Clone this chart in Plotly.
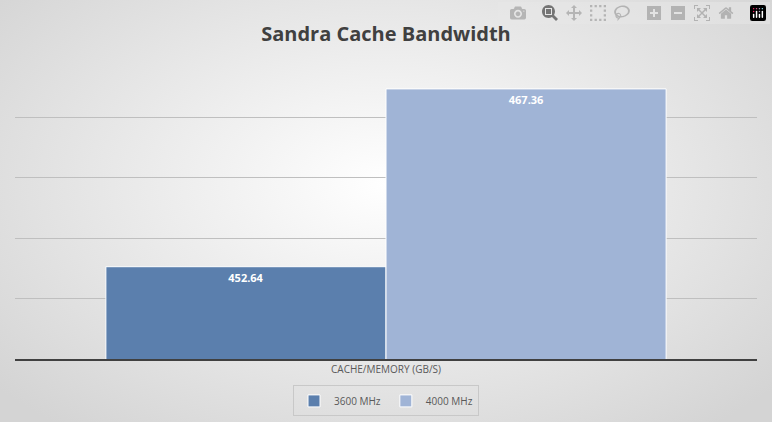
import plotly.graph_objects as go

categories = ["CACHE/MEMORY (GB/S)"]
series_names = ["3600 MHz", "4000 MHz"]
values_3600 = [452.64]
values_4000 = [467.36]
colors = ["#5b7fad", "#a0b4d6"]

svg = ("data:image/svg+xml;utf8,<svg xmlns='http://www.w3.org/2000/svg' width='772' height='422'>"
       "<defs><radialGradient id='g' cx='50%25' cy='45%25' r='65%25'>"
       "<stop offset='0' stop-color='%23ffffff'/><stop offset='1' stop-color='%23d4d4d4'/>"
       "</radialGradient></defs><rect width='772' height='422' fill='url(%23g)'/></svg>")

fig = go.Figure()
for name, vals, c in zip(series_names, [values_3600, values_4000], colors):
    fig.add_trace(go.Bar(
        x=categories, y=vals, name=name, marker=dict(color=c, line=dict(color="white", width=1)),
        text=[f"{v:.2f}" for v in vals], textposition="inside", insidetextanchor="end",
        textfont=dict(color="white", size=11, family="Open Sans"),
        texttemplate="<b>%{text}</b>"))

fig.update_layout(
    width=772, height=422,
    margin=dict(l=15, r=15, t=57, b=63, autoexpand=False),
    paper_bgcolor="#e8e8e8", plot_bgcolor="rgba(0,0,0,0)",
    images=[dict(source=svg, xref="paper", yref="paper", x=-0.03, y=1.3, sizex=1.06, sizey=1.6,
                 sizing="stretch", layer="below")],
    title=dict(text="<b>Sandra Cache Bandwidth</b>", x=0.5, y=0.935, xanchor="center",
               font=dict(size=20, color="#404040", family="Open Sans")),
    barmode="group", bargap=0.245, bargroupgap=0,
    showlegend=True,
    legend=dict(orientation="h", x=0.5, xanchor="center", yref="container", y=0.05, yanchor="middle",
                bordercolor="#c8c8c8", borderwidth=1, bgcolor="rgba(0,0,0,0)",
                font=dict(size=10, color="#595959", family="Open Sans")),
    xaxis=dict(tickfont=dict(size=10, color="#595959", family="Open Sans"),
               showline=True, linecolor="#404040", linewidth=2, ticks=""),
    yaxis=dict(range=[445, 470], dtick=5, showticklabels=False, gridcolor="#bfbfbf",
               zeroline=False, showline=False),
)
fig.write_html("out.html")
with open("out.html", encoding="utf-8") as f:
    html = f.read()
html = html.replace("<head>", "<head><style>body{margin:0;}</style>", 1)
with open("out.html", "w", encoding="utf-8") as f:
    f.write(html)
